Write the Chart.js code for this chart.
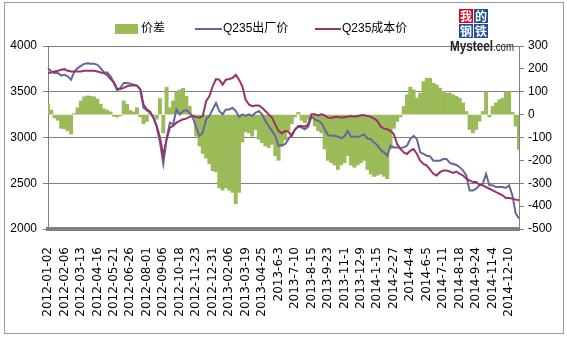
<!DOCTYPE html>
<html lang="zh">
<head>
<meta charset="UTF-8">
<title>Q235 价差</title>
<script src="https://cdn.jsdelivr.net/npm/chart.js@4/dist/chart.umd.min.js"></script>
<style>
  body { margin: 0; background: #fff; }
</style>
</head>
<body>
<canvas id="myChart" width="567" height="338"></canvas>
<script>
// x axis labels, one every 5 points (weekly points)
const tickLabels = ["2012-01-02","2012-02-06","2012-03-13","2012-04-16","2012-05-21","2012-06-26","2012-08-01",
  "2012-09-06","2012-10-18","2012-11-23","2012-12-31","2013-02-06","2013-03-19","2013-04-25","2013-6-3",
  "2013-7-10","2013-8-15","2013-9-23","2013-11-1","2013-12-9","2014-1-15","2014-2-27","2014-4-4",
  "2014-6-5","2014-7-11","2014-8-18","2014-9-24","2014-11-4","2014-12-10"];
const perTick = 5;

// Q235出厂价 (left axis)
const factoryPrice = [3758,3722,3704,3704,3679,3686,3668,3632,3722,3758,
  3783,3805,3812,3805,3805,3794,3758,3711,3711,3668,
  3596,3516,3542,3596,3596,3588,3578,3567,3523,3325,
  3296,3271,3217,3119,2946,2711,2982,3162,3144,3307,
  3253,3289,3300,3271,3217,3108,3018,3054,3199,3235,
  3307,3379,3289,3253,3307,3307,3325,3289,3227,3253,
  3235,3253,3235,3271,3289,3253,3181,3126,3072,3018,
  2910,2917,2928,2982,3036,3083,3119,3108,3090,3119,
  3227,3199,3181,3162,3090,3029,3018,3018,3011,2993,
  3011,3072,3007,3007,3007,3018,3036,2989,2982,2946,
  2917,2863,2838,2801,2910,2892,2892,2885,2892,2910,
  2982,3018,2982,2838,2820,2801,2794,2747,2747,2747,
  2765,2765,2722,2711,2700,2675,2639,2585,2422,2422,
  2440,2477,2495,2603,2477,2477,2458,2458,2458,2448,
  2477,2368,2170,2116];

// Q235成本价 (left axis)
const costPrice = [3704,3711,3722,3729,3740,3747,3729,3722,3722,3722,
  3722,3729,3729,3729,3729,3722,3711,3704,3682,3639,
  3603,3531,3531,3542,3560,3567,3570,3567,3531,3361,
  3307,3282,3217,3126,3000,2801,2982,3108,3126,3162,
  3181,3199,3206,3227,3235,3224,3217,3235,3397,3451,
  3560,3639,3632,3578,3632,3639,3650,3686,3632,3560,
  3415,3361,3343,3350,3350,3325,3289,3253,3217,3144,
  3072,3045,3072,3061,3018,3090,3126,3126,3119,3144,
  3253,3253,3242,3253,3242,3217,3213,3224,3227,3217,
  3224,3227,3235,3227,3235,3242,3242,3235,3227,3206,
  3181,3119,3097,3090,3072,3036,2928,2875,2838,2820,
  2856,2874,2820,2747,2711,2693,2650,2603,2585,2621,
  2639,2639,2628,2614,2628,2603,2585,2549,2531,2513,
  2513,2484,2477,2458,2440,2422,2404,2386,2368,2339,
  2339,2332,2321,2314];

// 价差 (right axis)
const spread = [45,20,-15,-25,-60,-62,-70,-85,5,30,
  60,78,82,80,78,68,45,25,20,12,
  -7,-10,-5,60,45,18,12,30,-10,-40,
  -30,5,-5,-20,70,-80,120,30,60,100,
  108,115,80,36,0,-94,-137,-170,-190,-215,
  -245,-250,-320,-330,-320,-330,-340,-390,-340,-120,
  -75,-80,-94,-65,-108,-123,-137,-144,-130,-180,
  -200,-140,-110,-70,-40,-10,10,-25,-35,-20,
  -5,-50,-70,-80,-150,-200,-210,-220,-240,-220,
  -210,-180,-220,-230,-220,-210,-200,-240,-260,-270,
  -265,-260,-270,-280,-150,-60,-30,-10,36,87,
  120,108,72,94,144,159,159,137,130,116,
  101,94,94,87,80,72,51,14,-65,-80,
  -65,-29,14,100,-10,36,51,65,72,100,
  100,10,-50,-152];

const labels = factoryPrice.map((v, i) => (i % perTick === 0 && tickLabels[i / perTick]) ? tickLabels[i / perTick] : '');

const greenColor = '#9BBB59';
const blueColor = '#666699';
const maroonColor = '#993366';
const axisColor = '#808080';

// white background, outer frame, legend and logo
const decor = {
  id: 'decor',
  beforeDraw(chart) {
    const ctx = chart.ctx;
    ctx.save();
    ctx.fillStyle = '#fff';
    ctx.fillRect(0, 0, chart.width, chart.height);
    ctx.strokeStyle = '#999';
    ctx.lineWidth = 1;
    ctx.strokeRect(4.5, 2.5, 559, 331);
    ctx.restore();
  },
  afterDraw(chart) {
    const ctx = chart.ctx;
    const ds = chart.data.datasets;
    ctx.save();
    ctx.font = '12px "Liberation Sans", "Noto Sans CJK SC", sans-serif';
    ctx.fillStyle = '#000';
    ctx.textBaseline = 'middle';
    // legend
    ctx.fillStyle = greenColor;
    ctx.fillRect(115, 24, 23, 10);
    ctx.fillStyle = '#000';
    ctx.fillText(ds[0].label, 141, 29);
    ctx.strokeStyle = blueColor;
    ctx.lineWidth = 2;
    ctx.beginPath(); ctx.moveTo(195, 29); ctx.lineTo(222, 29); ctx.stroke();
    ctx.fillText(ds[1].label, 223, 29);
    ctx.strokeStyle = maroonColor;
    ctx.beginPath(); ctx.moveTo(315, 29); ctx.lineTo(341, 29); ctx.stroke();
    ctx.fillText(ds[2].label, 342, 29);

    // logo
    const boxes = [['我', 459, 9, '#E2001A'], ['的', 474, 9, '#1F4FA0'], ['钢', 459, 24, '#1F4FA0'], ['铁', 474, 24, '#1F4FA0']];
    ctx.textAlign = 'center';
    ctx.font = 'bold 12px "Noto Sans CJK SC", sans-serif';
    for (const b of boxes) {
      ctx.fillStyle = b[3];
      ctx.fillRect(b[1], b[2], 14, 14);
      ctx.fillStyle = '#fff';
      ctx.fillText(b[0], b[1] + 7, b[2] + 7.5);
    }
    ctx.textAlign = 'left';
    ctx.textBaseline = 'alphabetic';
    ctx.fillStyle = '#222';
    ctx.font = 'bold 15px "Liberation Sans", sans-serif';
    ctx.fillText('Mysteel', 450, 51, 43);
    ctx.font = '13px "Liberation Sans", sans-serif';
    ctx.fillText('.com', 493, 51, 21);
    ctx.restore();
  }
};

Chart.defaults.font.family = '"Liberation Sans", "Noto Sans CJK SC", sans-serif';
Chart.defaults.font.size = 12;
Chart.defaults.color = '#000';

const ctx = document.getElementById('myChart').getContext('2d');
const myChart = new Chart(ctx, {
  type: 'bar',
  data: {
    labels: labels,
    datasets: [{
      type: 'bar',
      label: '价差',
      data: spread,
      yAxisID: 'y1',
      backgroundColor: greenColor,
      borderWidth: 0,
      barPercentage: 1,
      categoryPercentage: 1,
      order: 3
    }, {
      type: 'line',
      label: 'Q235出厂价',
      data: factoryPrice,
      yAxisID: 'y',
      borderColor: blueColor,
      borderWidth: 2,
      pointRadius: 0,
      fill: false,
      order: 2
    }, {
      type: 'line',
      label: 'Q235成本价',
      data: costPrice,
      yAxisID: 'y',
      borderColor: maroonColor,
      borderWidth: 2,
      pointRadius: 0,
      fill: false,
      order: 1
    }]
  },
  options: {
    responsive: false,
    animation: false,
    layout: { padding: { top: 46, left: 0, right: 0, bottom: 0 } },
    plugins: {
      legend: { display: false },
      tooltip: { enabled: false }
    },
    scales: {
      x: {
        type: 'category',
        offset: false,
        grid: { display: false },
        border: { display: true, color: axisColor, width: 4 },
        ticks: {
          autoSkip: false,
          maxRotation: 90,
          minRotation: 90,
          padding: 10,
          font: { family: '"DejaVu Sans", sans-serif', size: 12 }
        },
        afterFit: (s) => { s.height = 109; }
      },
      y: {
        position: 'left',
        min: 2000,
        max: 4000,
        grid: { color: axisColor, tickLength: 5 },
        border: { color: axisColor },
        ticks: { stepSize: 500, padding: 6, callback: (v) => v },
        afterFit: (s) => { s.width = 48; }
      },
      y1: {
        position: 'right',
        min: -500,
        max: 300,
        grid: { drawOnChartArea: false, color: axisColor, tickLength: 5 },
        border: { color: axisColor },
        ticks: { stepSize: 100, padding: 4, callback: (v) => v },
        afterFit: (s) => { s.width = 48; }
      }
    }
  },
  plugins: [decor]
});
</script>
</body>
</html>
